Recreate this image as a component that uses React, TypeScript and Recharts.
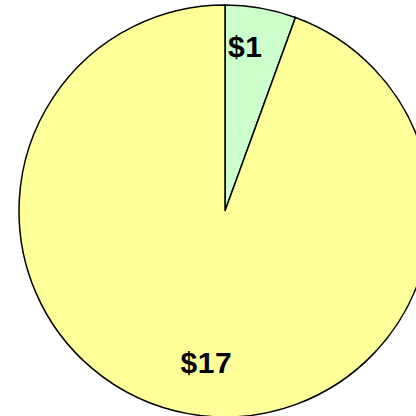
import { PieChart, Pie, Cell } from 'recharts';

const LABELS = ['$1', '$17'];
const VALUES = [1, 17];
const COLORS = ['#ccffcc', '#ffff99'];

const data = LABELS.map((name, i) => ({ name, value: VALUES[i] }));

const RADIAN = Math.PI / 180;

function renderLabel({ cx, cy, midAngle, index }: any) {
  const r = index === 0 ? 166 : 153;
  const a = (midAngle + 3) * RADIAN;
  const x = cx + r * Math.cos(-a);
  const y = cy + r * Math.sin(-a);
  return (
    <text
      x={x}
      y={y}
      textAnchor="middle"
      dominantBaseline="central"
      fontFamily="'Liberation Sans', Arial, sans-serif"
      fontWeight="bold"
      fontSize={30}
      letterSpacing={0.5}
      fill="#000"
    >
      {data[index].name}
    </text>
  );
}

export default function App() {
  return (
    <div style={{ position: 'absolute', left: 0, top: 0, width: 416, height: 416, background: '#fff' }}>
      <PieChart width={416} height={416} margin={{ top: 0, right: 0, bottom: 0, left: 0 }}>
        <Pie
          data={data}
          dataKey="value"
          nameKey="name"
          cx={225}
          cy={211}
          outerRadius={206}
          startAngle={90}
          endAngle={-270}
          stroke="#000"
          strokeWidth={1.5}
          label={renderLabel}
          labelLine={false}
          isAnimationActive={false}
        >
          {data.map((_, i) => (
            <Cell key={i} fill={COLORS[i]} />
          ))}
        </Pie>
      </PieChart>
    </div>
  );
}
